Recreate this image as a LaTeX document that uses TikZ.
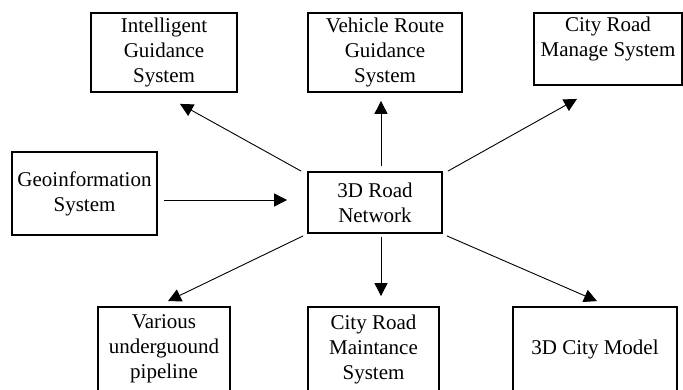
\documentclass[tikz,border=0pt]{standalone}
\usepackage{fontspec}
\setmainfont{Liberation Serif}
\usetikzlibrary{arrows.meta}
\begin{document}
\begin{tikzpicture}[x=1pt,y=-1pt,
  box/.style={draw,line width=1.8pt,rectangle,align=center,inner sep=0pt,
    font=\fontsize{21}{25}\selectfont},
  arr/.style={line width=0.9pt,-{Triangle[length=13pt,width=13pt]}}]
\useasboundingbox (0,0) rectangle (683,390);
\clip (0,0) rectangle (683,390);
\node[box,minimum width=146pt,minimum height=79pt] (igs) at (164,52.5) {Intelligent\\Guidance\\System};
\node[box,minimum width=154pt,minimum height=79pt] (vrg) at (385,52.5) {Vehicle Route\\Guidance\\System};
\node[box,minimum width=148pt,minimum height=72pt] (crm) at (608,49) {City Road\\Manage System\\\mbox{}};
\node[box,minimum width=145pt,minimum height=83pt] (geo) at (84.5,193.5) {Geoinformation\\System};
\node[box,minimum width=134pt,minimum height=61pt] (road) at (375,202.5) {3D Road\\Network};
\node[box,minimum width=132pt,minimum height=84pt] (pipe) at (164,349) {Various\\underguound\\pipeline};
\node[box,minimum width=131pt,minimum height=84pt] (crmt) at (373.5,349) {City Road\\Maintance\\System};
\node[box,minimum width=164pt,minimum height=84pt] (model) at (595,349) {3D City Model};
\draw[arr] ([shift={(6,6.5)}]geo.east) -- ([shift={(-20,-2.5)}]road.west);
\draw[arr] ([shift={(-6,0)}]road.north west) -- ([shift={(16,11)}]igs.south);
\draw[arr] ([shift={(6,-5)}]road.north) -- ([shift={(-4,8)}]vrg.south);
\draw[arr] ([shift={(5,0)}]road.north east) -- ([shift={(-31,13)}]crm.south);
\draw[arr] ([shift={(-4,2)}]road.south west) -- ([shift={(4,-5)}]pipe.north);
\draw[arr] ([shift={(6,3)}]road.south) -- ([shift={(7.5,-10)}]crmt.north);
\draw[arr] ([shift={(4,2)}]road.south east) -- ([shift={(2,-5)}]model.north);
\end{tikzpicture}
\end{document}
